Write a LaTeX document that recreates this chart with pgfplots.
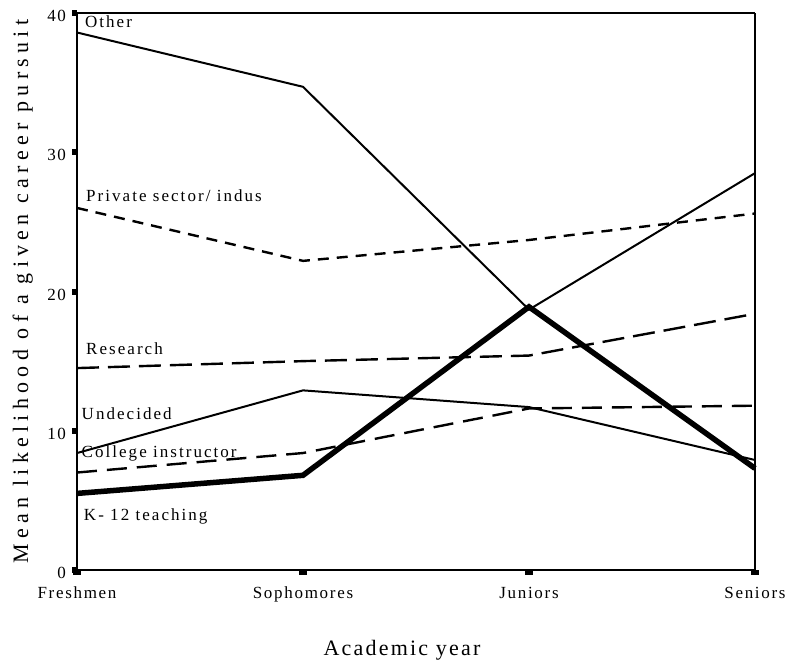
\documentclass[border=0pt]{standalone}
\usepackage{pgfplots}
\pgfplotsset{compat=1.18}
\usepackage{fontspec}
\setmainfont{Liberation Serif}
\newfontfamily\sptick[LetterSpace=10]{Liberation Serif}
\newfontfamily\splab[LetterSpace=12]{Liberation Serif}
\newfontfamily\spx[LetterSpace=10]{Liberation Serif}
\newfontfamily\spy[LetterSpace=24]{Liberation Serif}
\begin{document}
\begin{tikzpicture}[x=1pt,y=1pt]
\begin{axis}[
  name=ax,
  width=678pt, height=557pt, scale only axis,
  xmin=0, xmax=3, ymin=0, ymax=40,
  xtick={0,1,2,3},
  xticklabels={Freshmen,Sophomores,Juniors,Seniors},
  ytick={0,10,20,30,40},
  separate axis lines,
  axis line style={line width=2.6pt},
  tick align=outside,
  xtick pos=bottom, ytick pos=left,
  x tick style={line width=8pt, black},
  y tick style={line width=6pt, black},
  major tick length=4.5pt,
  /pgf/number format/assume math mode=true,
  ticklabel style={font=\sptick\fontsize{17}{19}\selectfont},
  xticklabel style={yshift=-9pt},
  yticklabel style={xshift=-3pt, yshift=-3pt},
  xlabel={Academic year},
  ylabel={Mean likelihood of a given career pursuit},
  xlabel style={font=\spx\fontsize{22}{24}\selectfont, at={(axis description cs:0.5,0)}, anchor=center, yshift=-80pt, xshift=-14pt},
  ylabel style={font=\spy\fontsize{22}{24}\selectfont, at={(axis description cs:-0.08,0.5)}, anchor=center},
  every axis plot/.append style={black, line join=miter},
  clip=false,
]
% Other
\addplot[line width=2pt] coordinates {(0,38.6) (1,34.7) (2,18.7) (3,28.5)};
% Private sector / industry
\addplot[line width=2.4pt, dash pattern=on 11pt off 8pt] coordinates {(0,26.0) (1,22.2) (2,23.7) (3,25.6)};
% Research
\addplot[line width=2.4pt, dash pattern=on 22pt off 9pt] coordinates {(0,14.5) (1,15.0) (2,15.4) (3,18.4)};
% Undecided
\addplot[line width=2pt] coordinates {(0,8.4) (1,12.9) (2,11.7) (3,7.9)};
% College instructor
\addplot[line width=2.4pt, dash pattern=on 20pt off 10pt] coordinates {(0,7.0) (1,8.4) (2,11.6) (3,11.8)};
% K-12 teaching
\addplot[line width=5.5pt] coordinates {(0,5.5) (1,6.8) (2,18.9) (3,7.3)};

\begin{scope}[every node/.style={anchor=west, inner sep=0pt, font=\splab\fontsize{17}{19}\selectfont}]
\node at (axis cs:0.035,39.35) {Other};
\node at (axis cs:0.04,26.86) {Private sector/ indus};
\node at (axis cs:0.04,15.87) {Research};
\node at (axis cs:0.02,11.2) {Undecided};
\node at (axis cs:0.02,8.4) {College instructor};
\node at (axis cs:0.03,3.88) {K- 12 teaching};
\end{scope}
\end{axis}
\pgfresetboundingbox
\path[use as bounding box] (ax.south west) ++(-77pt,-89pt) rectangle ++(786pt,659pt);
\end{tikzpicture}
\end{document}
